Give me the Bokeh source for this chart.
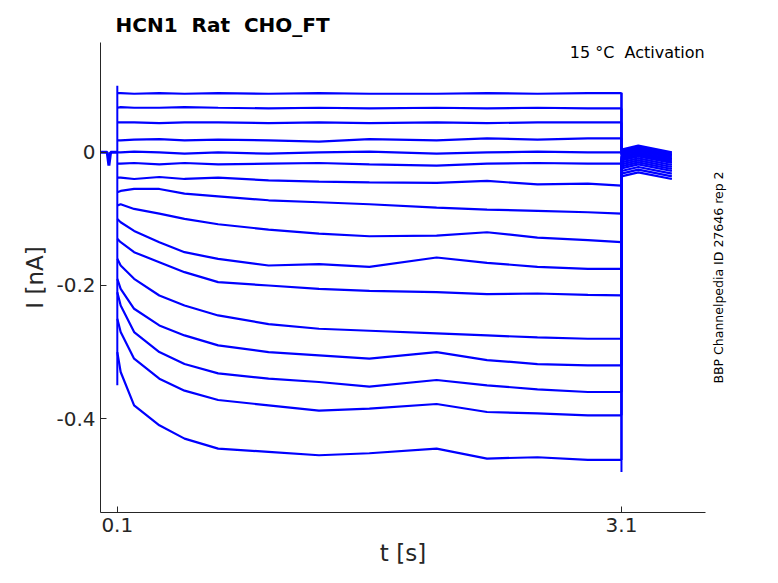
import numpy as np
from bokeh.plotting import figure
from bokeh.layouts import row
from bokeh.models import FixedTicker, Range1d, Title, Label
from bokeh.core.properties import value
from bokeh.embed import file_html
from bokeh.resources import INLINE

# sample times (s) during the step
step_t = [0.1, 0.12, 0.2, 0.35, 0.5, 0.7, 1.0, 1.3, 1.6, 2.0, 2.3, 2.6, 2.9, 3.1]
# current (nA) of each trace at step_t
traces = [
    [0.089, 0.089, 0.088, 0.089, 0.088, 0.089, 0.088, 0.089, 0.088, 0.088, 0.089, 0.088, 0.089, 0.089],
    [0.067, 0.068, 0.067, 0.067, 0.068, 0.067, 0.066, 0.067, 0.066, 0.067, 0.066, 0.067, 0.066, 0.066],
    [0.045, 0.045, 0.045, 0.044, 0.045, 0.045, 0.044, 0.045, 0.044, 0.045, 0.044, 0.045, 0.045, 0.045],
    [0.018, 0.018, 0.019, 0.020, 0.018, 0.019, 0.018, 0.016, 0.020, 0.018, 0.021, 0.019, 0.021, 0.021],
    [0.000, 0.000, 0.001, 0.000, -0.002, 0.000, -0.002, 0.000, 0.001, -0.002, 0.000, 0.001, 0.000, 0.000],
    [-0.017, -0.017, -0.016, -0.018, -0.016, -0.018, -0.017, -0.016, -0.018, -0.020, -0.017, -0.016, -0.017, -0.017],
    [-0.038, -0.038, -0.040, -0.037, -0.040, -0.038, -0.042, -0.044, -0.045, -0.046, -0.043, -0.048, -0.047, -0.050],
    [-0.060, -0.058, -0.055, -0.055, -0.062, -0.066, -0.072, -0.075, -0.078, -0.083, -0.086, -0.088, -0.090, -0.092],
    [-0.080, -0.078, -0.085, -0.092, -0.100, -0.108, -0.116, -0.122, -0.126, -0.125, -0.120, -0.128, -0.132, -0.135],
    [-0.100, -0.105, -0.118, -0.135, -0.150, -0.160, -0.170, -0.168, -0.172, -0.158, -0.166, -0.172, -0.175, -0.175],
    [-0.130, -0.135, -0.150, -0.165, -0.180, -0.195, -0.200, -0.205, -0.208, -0.210, -0.213, -0.212, -0.214, -0.215],
    [-0.160, -0.170, -0.190, -0.215, -0.230, -0.245, -0.258, -0.265, -0.268, -0.272, -0.275, -0.278, -0.280, -0.280],
    [-0.190, -0.205, -0.235, -0.260, -0.275, -0.290, -0.300, -0.305, -0.310, -0.300, -0.312, -0.318, -0.320, -0.320],
    [-0.210, -0.230, -0.270, -0.300, -0.318, -0.332, -0.340, -0.345, -0.352, -0.342, -0.350, -0.356, -0.360, -0.360],
    [-0.250, -0.270, -0.310, -0.340, -0.358, -0.372, -0.380, -0.388, -0.385, -0.378, -0.390, -0.392, -0.395, -0.395],
    [-0.300, -0.330, -0.380, -0.410, -0.430, -0.445, -0.450, -0.455, -0.452, -0.445, -0.460, -0.458, -0.462, -0.462],
]
# holding current before the step and tail current after the step (nA)
pre_t = [0.0, 0.04, 0.05, 0.06, 0.1]
pre_i = [0.0, 0.0, -0.02, 0.0, 0.0]
tail_t = [3.1, 3.2, 3.4, 3.6]
tail_levels = [0.004, 0.002, 0.000, -0.002, -0.004, -0.006, -0.008, -0.010,
               -0.012, -0.015, -0.018, -0.021, -0.024, -0.028, -0.032, -0.036]
transient_on = [0.1, -0.35]
transient_off = [0.09, -0.48]

BLUE = "#0000ff"
GREY = "#262626"
NB = "\u00a0"
p = figure(width=706, height=575, output_backend="svg", toolbar_location=None,
           x_range=Range1d(0, 3.6), y_range=Range1d(-0.541, 0.165),
           min_border_left=100, min_border_right=1, min_border_top=42, min_border_bottom=63)
p.title = None
p.outline_line_color = None
p.grid.visible = False

p.line(pre_t, pre_i, color=BLUE, line_width=3)
for tr, lv in zip(traces, tail_levels):
    p.line(step_t, tr, color=BLUE, line_width=2.2)
    p.line([3.1, 3.1] + tail_t[1:], [tr[-1], lv, lv + 0.006, lv - 0.004], color=BLUE, line_width=2.2)
p.line([0.1, 0.1], transient_on, color=BLUE, line_width=2)
p.line([3.1, 3.1], transient_off, color=BLUE, line_width=2)

p.xaxis.ticker = FixedTicker(ticks=[0.1, 3.1])
p.yaxis.ticker = FixedTicker(ticks=[0, -0.2, -0.4])
p.xaxis.major_label_overrides = {0.1: "0.1", 3.1: "3.1"}
p.yaxis.major_label_overrides = {0: "0", -0.2: "-0.2", -0.4: "-0.4"}
for ax in (p.xaxis, p.yaxis):
    ax.axis_line_color = GREY
    ax.major_tick_line_color = GREY
    ax.minor_tick_line_color = None
    ax.major_tick_in = 6
    ax.major_tick_out = 0
    ax.major_label_text_font_size = "20px"
    ax.major_label_text_color = GREY
    ax.major_label_text_font = "DejaVu Sans"
    ax.axis_label_text_font_size = "23px"
    ax.axis_label_text_font_style = "normal"
    ax.axis_label_text_font = "DejaVu Sans"
    ax.axis_label_text_color = GREY
p.xaxis.axis_label = "t [s]"
p.yaxis.axis_label = "I [nA]"

p.add_layout(Label(x=3.595, y=0.1645, text="15 °C" + NB + NB + "Activation", text_font_size="16px",
                   text_font="DejaVu Sans", text_align="right", text_baseline="top",
                   text_color="black"))
p.add_layout(Title(text="HCN1" + NB + NB + "Rat" + NB + NB + "CHO_FT", align="left", text_font_size="20px",
                   text_font="DejaVu Sans", text_font_style="bold", offset=15, standoff=12,
                   text_color="black"), "above")

side = figure(width=64, height=575, output_backend="svg", toolbar_location=None,
              x_range=Range1d(0, 1), y_range=Range1d(0, 1), min_border=0)
side.title = None
side.axis.visible = False
side.grid.visible = False
side.outline_line_color = None
side.text(x=[0.19], y=[0.50], text=["BBP Channelpedia ID 27646 rep 2"], angle=np.pi / 2,
          text_font=value("DejaVu Sans"), text_font_size="12.5px", text_align="center",
          text_baseline="middle", text_color="black")

open("out.html", "w").write(file_html(row(p, side, spacing=0), INLINE))
